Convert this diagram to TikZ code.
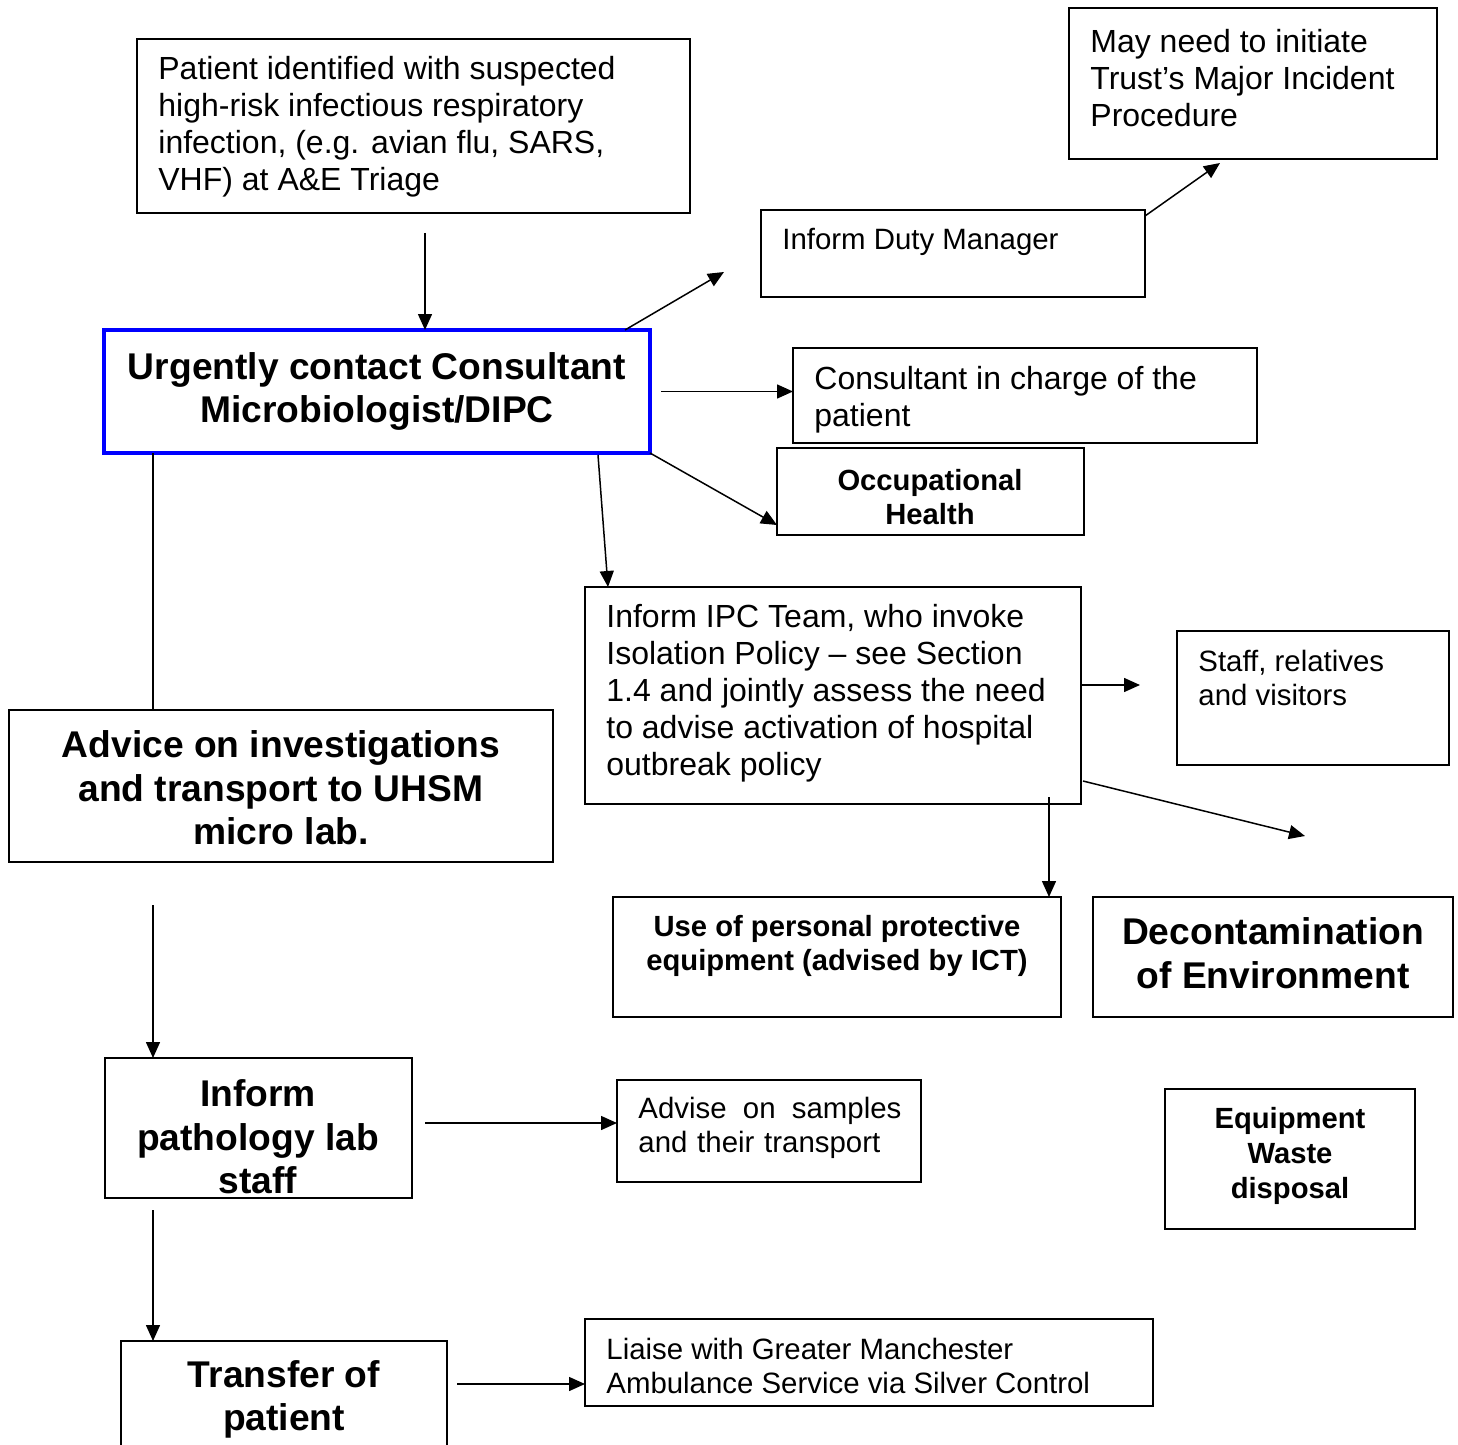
\documentclass[tikz,border=0pt]{standalone}
\usepackage{fontspec}
\setmainfont{Liberation Sans}
\usetikzlibrary{arrows.meta,fit,calc}

\newcommand\fnorm{\fontsize{16}{18.5}\selectfont}
\newcommand\fsmall{\fontsize{14.7}{17}\selectfont}
\newcommand\fbig{\fontsize{18.6}{21.75}\selectfont\bfseries}
\newcommand\fmid{\fontsize{14.6}{17.4}\selectfont\bfseries}

\tikzset{
  box/.style={draw, line width=0.9pt, inner sep=0pt, outer sep=0pt},
  keybox/.style={draw=blue, line width=2.2pt, inner sep=0pt, outer sep=0pt},
  txt/.style={inner sep=0pt},
  arr/.style={line width=0.75pt, -{Triangle[length=8pt,width=7pt]}},
  plain/.style={line width=0.75pt}
}

\begin{document}
\begin{tikzpicture}[x=0.5pt,y=-0.5pt]
	\useasboundingbox[fill=white] (0,0) rectangle (1458,1445);

	% boxes
	\node[box, fit={(137,39) (690,213)}] (patient) {};
	\node[keybox, fit={(104,330) (650,453)}] (urgent) {};
	\node[box, fit={(761,210) (1145,297)}] (duty) {};
	\node[box, fit={(1069,8) (1437,159)}] (major) {};
	\node[box, fit={(793,348) (1257,443)}] (cons) {};
	\node[box, fit={(777,448) (1084,535)}] (occ) {};
	\node[box, fit={(585,587) (1081,804)}] (ipc) {};
	\node[box, fit={(1177,631) (1449,765)}] (staff) {};
	\node[box, fit={(613,897) (1061,1017)}] (ppe) {};
	\node[box, fit={(1093,897) (1453,1017)}] (decon) {};
	\node[box, fit={(1165,1089) (1415,1229)}] (waste) {};
	\node[box, fit={(9,710) (553,862)}] (advice) {};
	\node[box, fit={(105,1058) (412,1198)}] (path) {};
	\node[box, fit={(617,1080) (921,1182)}] (samples) {};
	\node[box, fit={(121,1341) (447,1470)}] (transfer) {};
	\node[box, fit={(585,1319) (1153,1406)}] (liaise) {};

	% texts
	\node[txt, anchor=west, align=left, font=\fnorm] (patientT) at (158,126.5)
		{Patient identified with suspected\\high-risk infectious respiratory\\infection, (e.g. avian flu, SARS,\\VHF) at A\&E Triage};
	\node[txt, align=center, font=\fbig] (urgentT) at (377,391.5)
		{Urgently contact Consultant\\Microbiologist/DIPC};
	\node[txt, anchor=west, font=\fsmall] (dutyT) at (782,242) {Inform Duty Manager};
	\node[txt, anchor=west, align=left, font=\fnorm] (majorT) at (1090,78)
		{May need to initiate\\Trust’s Major Incident\\Procedure};
	\node[txt, anchor=west, align=left, font=\fnorm] (consT) at (814,399.5)
		{Consultant in charge of the\\patient};
	\node[txt, align=center, font=\fmid] (occT) at (930,497) {Occupational\\Health};
	\node[txt, anchor=west, align=left, font=\fnorm] (ipcT) at (606,693.5)
		{Inform IPC Team, who invoke\\Isolation Policy – see Section\\1.4 and jointly assess the need\\to advise activation of hospital\\outbreak policy};
	\node[txt, anchor=west, align=left, font=\fsmall] (staffT) at (1198,678)
		{Staff, relatives\\and visitors};
	\node[txt, align=center, font=\fmid] (ppeT) at (837,946)
		{Use of personal protective\\equipment (advised by ICT)};
	\node[txt, align=center, font=\fbig] (deconT) at (1273,953)
		{Decontamination\\of Environment};
	\node[txt, align=center, font=\fmid] (wasteT) at (1290,1156)
		{Equipment\\Waste\\disposal};
	\node[txt, align=center, font=\fbig] (adviceT) at (281,788)
		{Advice on investigations\\and transport to UHSM\\micro lab.};
	\node[txt, align=center, font=\fbig] (pathT) at (258,1137)
		{Inform\\pathology lab\\staff};
	\node[txt, anchor=west, align=left, text width=131.5pt, font=\fsmall] (samplesT) at (638,1128)
		{Advise\hfill on\hfill samples\\and their transport};
	\node[txt, align=center, font=\fbig] (transferT) at (284,1399.5)
		{Transfer of\\patient};
	\node[txt, anchor=west, align=left, font=\fsmall] (liaiseT) at (606,1366)
		{Liaise with Greater Manchester\\Ambulance Service via Silver Control};

	% free ends
	\coordinate (p1) at (425,233);
	\coordinate (d1) at (724,272);
	\coordinate (m1) at (1220,163);
	\coordinate (s1) at (1140,685);
	\coordinate (e1) at (1305,836);
	\coordinate (q1) at (1049,797);
	\coordinate (u1) at (153,453);
	\coordinate (v1) at (153,905);
	\coordinate (v2) at (153,1210);
	\coordinate (h1) at (425,1123);
	\coordinate (h2) at (457,1384);

	% connectors
	\draw[arr] (p1) -- (p1 |- urgent.north);
	\draw[arr] ($(urgent.north east)+(-25,0)$) -- (d1);
	\draw[arr] ($(duty.north east)+(0,6)$) -- (m1);
	\draw[arr] ($(urgent.east)+(11,0)$) -- (cons.west |- urgent.east);
	\draw[arr] (urgent.south east) -- ($(occ.south west)+(0,-10)$);
	\draw[arr] ($(urgent.south east)+(-52,2)$) -- ($(ipc.north west)+(23,0)$);
	\draw[arr] (ipc.east |- s1) -- (s1);
	\draw[arr] ($(ipc.south east)+(2,-23)$) -- (e1);
	\draw[arr] (q1) -- (q1 |- ppe.north);
	\draw[plain] (u1) -- (u1 |- advice.north);
	\draw[arr] (v1) -- (v1 |- path.north);
	\draw[arr] (h1) -- (samples.west |- h1);
	\draw[arr] (v2) -- (v2 |- transfer.north);
	\draw[arr] (h2) -- (liaise.west |- h2);
\end{tikzpicture}
\end{document}
